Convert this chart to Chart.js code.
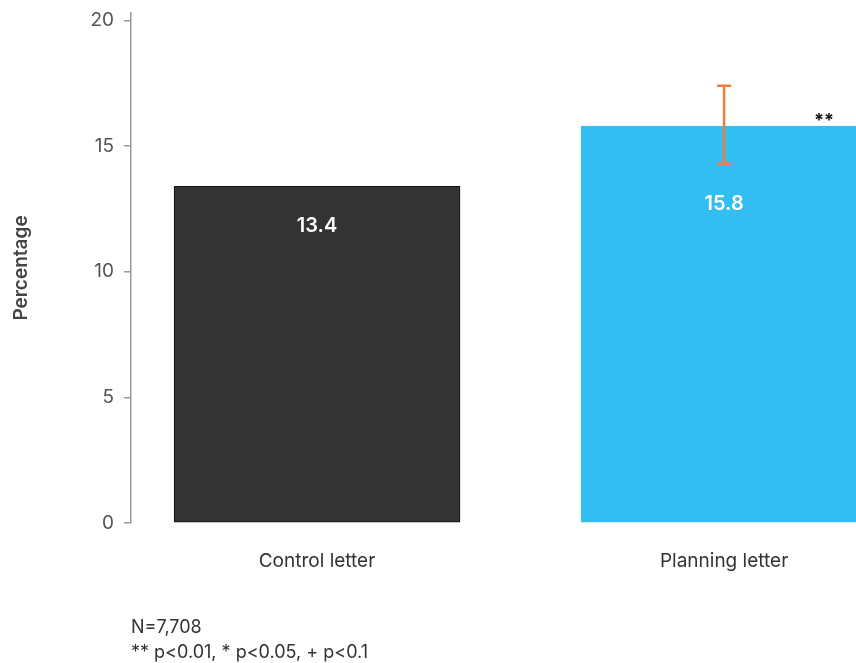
<!DOCTYPE html>
<html>
<head>
<meta charset="utf-8">
<script src="https://cdn.jsdelivr.net/npm/chart.js@4.4.1/dist/chart.umd.min.js"></script>
<style>
  html, body { margin: 0; padding: 0; background: #fff; overflow: hidden; }
  #wrap { position: relative; width: 856px; height: 663px; }
  .note { position: absolute; left: 131px; font-family: Inter, sans-serif; font-size: 18px; color: #333; line-height: 25px; }
</style>
</head>
<body>
<div id="wrap">
  <canvas id="barChart" width="856" height="663"></canvas>
  <div class="note" style="top:614px">N=7,708<br>** p&lt;0.01, * p&lt;0.05, + p&lt;0.1</div>
</div>
<script>
var categories = ['Control letter', 'Planning letter'];
var values = [13.4, 15.8];
var errLow = [null, 14.3];
var errHigh = [null, 17.4];
var stars = ['', '**'];
var yTicks = [0, 5, 10, 15, 20];

var overlay = {
    id: 'overlay',
    afterDatasetsDraw: function(chart) {
        var ctx = chart.ctx;
        var y = chart.scales.y;
        var bars = chart.getDatasetMeta(0).data;
        ctx.save();
        bars.forEach(function(bar, i) {
            var labelTop = bar.y;
            if (errLow[i] != null) {
                var yl = y.getPixelForValue(errLow[i]);
                var yh = y.getPixelForValue(errHigh[i]);
                ctx.strokeStyle = '#EE7F3B';
                ctx.lineWidth = 2.5;
                ctx.beginPath();
                ctx.moveTo(bar.x, yh); ctx.lineTo(bar.x, yl);
                ctx.moveTo(bar.x - 7, yh); ctx.lineTo(bar.x + 7, yh);
                ctx.moveTo(bar.x - 7, yl); ctx.lineTo(bar.x + 7, yl);
                ctx.stroke();
                labelTop = yl;
            }
            ctx.fillStyle = '#fff';
            ctx.font = '600 20px Inter';
            ctx.textAlign = 'center';
            ctx.textBaseline = 'middle';
            ctx.fillText(values[i].toFixed(1), bar.x, labelTop + 40);
            if (stars[i]) {
                ctx.fillStyle = '#111';
                ctx.font = 'bold 18px Inter';
                ctx.textBaseline = 'bottom';
                ctx.fillText(stars[i], bar.x + 100, bar.y + 4);
            }
        });
        ctx.restore();
    }
};

var barChart = document.getElementById('barChart').getContext('2d');
var myChart = new Chart(barChart, {
    type: 'bar',
    data: {
        datasets: [{
            data: values.map(function(v, i) { return {x: i, y: v}; }),
            backgroundColor: ['#333333', '#33BEF2'],
            borderColor: ['#111111', '#33BEF2'],
            borderWidth: 1,
            borderSkipped: false,
            barThickness: 286
        }]
    },
    options: {
        responsive: false,
        animation: false,
        layout: { padding: { top: 13, bottom: 80, left: 0, right: 0 } },
        plugins: { legend: { display: false }, tooltip: { enabled: false } },
        scales: {
            x: {
                type: 'linear',
                offset: false,
                bounds: 'data',
                min: -0.457,
                max: 1.324,
                afterBuildTicks: function(scale) {
                    scale.ticks = categories.map(function(c, i) { return {value: i}; });
                },
                afterFit: function(scale) { scale.height = 60; },
                ticks: {
                    padding: 19,
                    maxRotation: 0,
                    autoSkip: false,
                    color: '#333',
                    font: { family: 'Inter', size: 19 },
                    callback: function(v) { return categories[v]; }
                },
                grid: { display: false },
                border: { display: false }
            },
            y: {
                min: 0,
                max: 20.3,
                afterBuildTicks: function(scale) {
                    scale.ticks = yTicks.map(function(v) { return {value: v}; });
                },
                afterFit: function(scale) {
                    scale.width = 131;
                    scale.paddingTop = 0;
                    scale.paddingBottom = 0;
                },
                ticks: {
                    padding: 10,
                    color: '#555',
                    font: { family: 'Inter', size: 19 }
                },
                grid: { drawOnChartArea: false, drawTicks: true, tickLength: 7, color: '#999', lineWidth: 1.5 },
                border: { display: true, color: '#999', width: 1.5 },
                title: {
                    display: true,
                    text: 'Percentage',
                    color: '#444',
                    padding: { top: 10 },
                    font: { family: 'Inter', size: 19, weight: '600' }
                }
            }
        }
    },
    plugins: [overlay]
});
</script>
</body>
</html>
